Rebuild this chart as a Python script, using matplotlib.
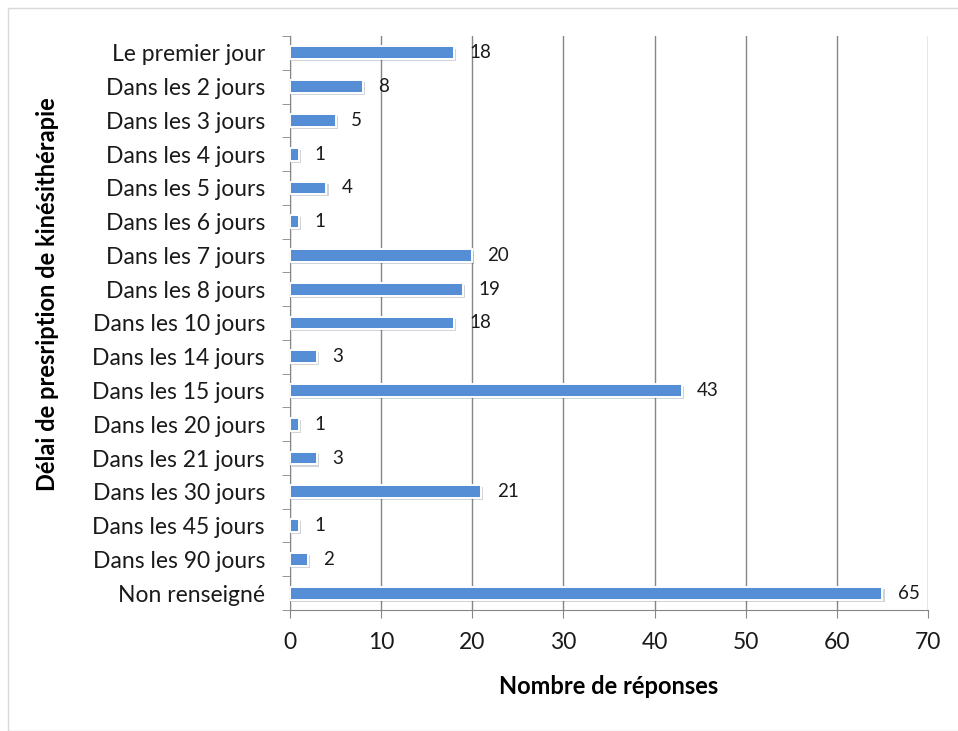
import matplotlib.pyplot as plt
import matplotlib.patheffects as pe
from matplotlib.patches import Rectangle
import numpy as np

categories = [
    "Le premier jour", "Dans les 2 jours", "Dans les 3 jours", "Dans les 4 jours",
    "Dans les 5 jours", "Dans les 6 jours", "Dans les 7 jours", "Dans les 8 jours",
    "Dans les 10 jours", "Dans les 14 jours", "Dans les 15 jours", "Dans les 20 jours",
    "Dans les 21 jours", "Dans les 30 jours", "Dans les 45 jours", "Dans les 90 jours",
    "Non renseigné",
]
values = [18, 8, 5, 1, 4, 1, 20, 19, 18, 3, 43, 1, 3, 21, 1, 2, 65]
xticks = [0, 10, 20, 30, 40, 50, 60, 70]

BLUE = "#558ED5"
GRID = "#868686"

plt.rcParams["font.family"] = ["Lato", "DejaVu Sans"]

fig = plt.figure(figsize=(9.58, 7.31), dpi=100)
ax = fig.add_axes([0.3027, 0.1655, 0.6660, 0.7853])

y = np.arange(len(categories))
bars = ax.barh(y, values, height=0.38, color=BLUE, edgecolor="white", linewidth=1.4,
               zorder=3)
for b in bars:
    b.set_path_effects([pe.SimplePatchShadow(offset=(1.5, -1.5), alpha=0.2),
                        pe.Normal()])

for yi, v in zip(y, values):
    ax.annotate(str(v), (v, yi), xytext=(11, 0), textcoords="offset points",
                va="center", ha="left", fontsize=13.5, color="#1a1a1a")

ax.set_ylim(len(categories) - 0.5, -0.5)
ax.set_xlim(0, 70)
ax.set_xticks(xticks)
ax.set_xticklabels([str(t) for t in xticks], fontsize=16.5)
ax.set_yticks(y)
ax.set_yticklabels(categories, fontsize=16.5, color="#1a1a1a")
ax.tick_params(axis="y", which="major", length=0, pad=18)
ax.set_yticks(np.arange(len(categories) + 1) - 0.5, minor=True)
ax.tick_params(axis="y", which="minor", length=6, color=GRID, direction="out")
ax.tick_params(axis="x", length=6, color=GRID, pad=10, labelcolor="#1a1a1a")

ax.grid(axis="x", color=GRID, linewidth=1, zorder=0)
for s in ["top", "right"]:
    ax.spines[s].set_visible(False)
ax.spines["left"].set_color(GRID)
ax.spines["bottom"].set_color(GRID)

ax.set_xlabel("Nombre de réponses", fontsize=17, fontweight="bold", labelpad=16)
ax.set_ylabel("Délai de presription de kinésithérapie", fontsize=17,
              fontweight="bold")
ax.yaxis.set_label_coords(-0.362, 0.55)

fig.patches.append(Rectangle((8 / 958, 0), 1, 1 - 8 / 731, transform=fig.transFigure,
                             fill=False, edgecolor="#d9d9d9", linewidth=1))

fig.savefig("out.png", dpi=100)
